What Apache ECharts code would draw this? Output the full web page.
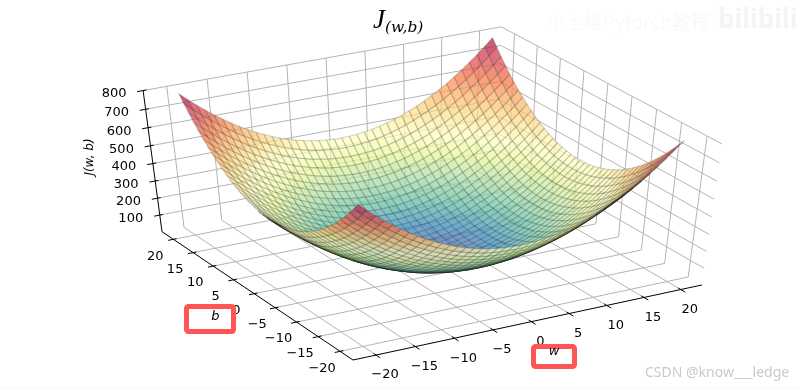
<!DOCTYPE html>
<html><head><meta charset="utf-8">
<style>html,body{margin:0;padding:0;background:#fff}#c{width:800px;height:389px}</style>
<script src="https://cdn.jsdelivr.net/npm/echarts@6/dist/echarts.min.js"></script>
</head><body><div id="c"></div>
<script>
// ---- values ----
const wValues=[-20,-19,-18,-17,-16,-15,-14,-13,-12,-11,-10,-9,-8,-7,-6,-5,-4,-3,-2,-1,0,1,2,3,4,5,6,7,8,9,10,11,12,13,14,15,16,17,18,19,20];
const bValues=wValues.slice();
const wTicks=[-20,-15,-10,-5,0,5,10,15,20];
const bTicks=[-20,-15,-10,-5,0,5,10,15,20];
const zTicks=[100,200,300,400,500,600,700,800];
const titleMain='J', titleSub='(w,b)';
// J(w,b) for w = -20..0 (the surface mirrors about w = 0) per |b|
const b0=[400,361,324,289,256,225,196,169,144,121,100,81,64,49,36,25,16,9,4,1,0];
const b1=[401,362,325,290,257,226,197,170,145,122,101,82,65,50,37,26,17,10,5,2,1];
const b2=[404,365,328,293,260,229,200,173,148,125,104,85,68,53,40,29,20,13,8,5,4];
const b3=[409,370,333,298,265,234,205,178,153,130,109,90,73,58,45,34,25,18,13,10,9];
const b4=[416,377,340,305,272,241,212,185,160,137,116,97,80,65,52,41,32,25,20,17,16];
const b5=[425,386,349,314,281,250,221,194,169,146,125,106,89,74,61,50,41,34,29,26,25];
const b6=[436,397,360,325,292,261,232,205,180,157,136,117,100,85,72,61,52,45,40,37,36];
const b7=[449,410,373,338,305,274,245,218,193,170,149,130,113,98,85,74,65,58,53,50,49];
const b8=[464,425,388,353,320,289,260,233,208,185,164,145,128,113,100,89,80,73,68,65,64];
const b9=[481,442,405,370,337,306,277,250,225,202,181,162,145,130,117,106,97,90,85,82,81];
const b10=[500,461,424,389,356,325,296,269,244,221,200,181,164,149,136,125,116,109,104,101,100];
const b11=[521,482,445,410,377,346,317,290,265,242,221,202,185,170,157,146,137,130,125,122,121];
const b12=[544,505,468,433,400,369,340,313,288,265,244,225,208,193,180,169,160,153,148,145,144];
const b13=[569,530,493,458,425,394,365,338,313,290,269,250,233,218,205,194,185,178,173,170,169];
const b14=[596,557,520,485,452,421,392,365,340,317,296,277,260,245,232,221,212,205,200,197,196];
const b15=[625,586,549,514,481,450,421,394,369,346,325,306,289,274,261,250,241,234,229,226,225];
const b16=[656,617,580,545,512,481,452,425,400,377,356,337,320,305,292,281,272,265,260,257,256];
const b17=[689,650,613,578,545,514,485,458,433,410,389,370,353,338,325,314,305,298,293,290,289];
const b18=[724,685,648,613,580,549,520,493,468,445,424,405,388,373,360,349,340,333,328,325,324];
const b19=[761,722,685,650,617,586,557,530,505,482,461,442,425,410,397,386,377,370,365,362,361];
const b20=[800,761,724,689,656,625,596,569,544,521,500,481,464,449,436,425,416,409,404,401,400];
const halfRows=[b20,b19,b18,b17,b16,b15,b14,b13,b12,b11,b10,b9,b8,b7,b6,b5,b4,b3,b2,b1,b0,b1,b2,b3,b4,b5,b6,b7,b8,b9,b10,b11,b12,b13,b14,b15,b16,b17,b18,b19,b20];
const costGrid=halfRows.map(r=>r.concat(r.slice(0,-1).reverse()));

// ---- view: perspective of the 3D box ----
const limW=22.9,limB=22.9,zLo=0,zHi=800;
const colorLo=-25,colorHi=800;
const cam={ax:353,ay:360,ux:8600,uy:-1413,uk:.04419,vx:-2565,vy:-1600,vk:.07004,zx:428,zy:2218,zk:-.071};
function box(u,v,t){
  const k=1+cam.uk*u+cam.vk*v+cam.zk*t;
  return [(cam.ax+cam.uk*cam.ux*u+cam.vk*cam.vx*v+cam.zk*cam.zx*t)/k,
          (cam.ay+cam.uk*cam.uy*u+cam.vk*cam.vy*v+cam.zk*cam.zy*t)/k,k];
}
const U=w=>(w+limW)/(2*limW),V=b=>(b+limB)/(2*limB),T=z=>(z-zLo)/(zHi-zLo);
const proj=(w,b,z)=>box(U(w),V(b),T(z));

// Spectral_r
const stops=[[94,79,162],[50,136,189],[102,194,165],[171,221,164],[230,245,152],[255,255,191],[254,224,139],[253,174,97],[244,109,67],[213,62,79],[158,1,66]];
function cmap(f){f=Math.max(0,Math.min(1,f))*10;const i=Math.min(9,Math.floor(f)),d=f-i,a=stops[i],b=stops[i+1];
  return [0,1,2].map(n=>Math.round(a[n]+(b[n]-a[n])*d));}

// grid lines on panes: [u0,v0,t0,u1,v1,t1]
const gridLines=[];
wTicks.forEach(w=>{const u=U(w);gridLines.push([u,0,0,u,1,0],[u,1,0,u,1,1]);});
bTicks.forEach(b=>{const v=V(b);gridLines.push([0,v,0,1,v,0],[1,v,0,1,v,1]);});
zTicks.forEach(z=>{const t=T(z);gridLines.push([0,1,t,1,1,t],[1,1,t,1,0,t]);});
// axis lines + ticks
const axisLines=[[0,0,0,1,0,0],[0,0,0,0,1,0],[0,1,0,0,1,1]];
const tickLines=[];
wTicks.forEach(w=>{const u=U(w);tickLines.push([u,-.02,0,u,.012,0]);});
bTicks.forEach(b=>{const v=V(b);tickLines.push([-.015,v,0,.009,v,0]);});
zTicks.forEach(z=>{const t=T(z);tickLines.push([-.016,1,t,.009,1,t]);});

// surface cells, far to near
const cells=[];
for(let j=0;j<bValues.length-1;j++)for(let i=0;i<wValues.length-1;i++){
  const wm=(wValues[i]+wValues[i+1])/2,bm=(bValues[j]+bValues[j+1])/2;
  const zm=(costGrid[j][i]+costGrid[j][i+1]+costGrid[j+1][i]+costGrid[j+1][i+1])/4;
  cells.push([i,j,proj(wm,bm,zm)[2]]);
}
cells.sort((a,b)=>b[2]-a[2]);

// texts: label, w/b/z anchor, pixel offset
const FONT='"DejaVu Sans"';
const texts=[];
wTicks.forEach(w=>{const p=box(U(w),0,0);texts.push([(w<0?'\u2212'+(-w):''+w),p[0]+9,p[1]+20]);});
bTicks.forEach(b=>{const p=box(0,V(b),0);texts.push([(b<0?'\u2212'+(-b):''+b),p[0]-18,p[1]+17]);});
zTicks.forEach(z=>{const p=box(0,1,T(z));texts.push([''+z,p[0]-29,p[1]+3.5]);});

const lineSeries=(data,color,width,z)=>({type:'custom',coordinateSystem:'cartesian2d',silent:true,animation:false,clip:false,z,
  data:data.map((d,i)=>[i,0]),
  renderItem(params,api){const d=data[params.dataIndex],a=box(d[0],d[1],d[2]),b=box(d[3],d[4],d[5]);
    const p=api.coord([a[0],a[1]]),q=api.coord([b[0],b[1]]);
    return {type:'line',shape:{x1:p[0],y1:p[1],x2:q[0],y2:q[1]},style:{stroke:color,lineWidth:width,fill:null},silent:true};}});

const option={animation:false,
  grid:{left:0,right:0,top:0,bottom:0},
  xAxis:{type:'value',min:0,max:800,show:false},
  yAxis:{type:'value',min:0,max:389,inverse:true,show:false},
  series:[
    lineSeries(gridLines,'#b4b4b4',1,1),
    lineSeries(axisLines,'#000',1,2),
    lineSeries(tickLines,'#000',1,2),
    {type:'custom',coordinateSystem:'cartesian2d',silent:true,animation:false,clip:false,z:3,progressive:0,
     data:cells.map(c=>[c[0],c[1]]),
     renderItem(params,api){
       const c=cells[params.dataIndex],i=c[0],j=c[1];
       const idx=[[i,j],[i+1,j],[i+1,j+1],[i,j+1]];
       let s=0;
       const pts=idx.map(q=>{const z=costGrid[q[1]][q[0]];s+=z;const p=proj(wValues[q[0]],bValues[q[1]],z);return api.coord([p[0],p[1]]);});
       const col=cmap((s/4-colorLo)/(colorHi-colorLo));
       let area=0;
       pts.forEach((p,n)=>{const q=pts[(n+1)%4];area+=p[0]*q[1]-q[0]*p[1];});
       area=Math.abs(area)/2;
       const edge=.18+Math.max(0,(10-area)/10)*.55;
       return {type:'polygon',shape:{points:pts},silent:true,
         style:{fill:`rgba(${col[0]},${col[1]},${col[2]},0.72)`,stroke:`rgba(30,40,25,${edge.toFixed(3)})`,lineWidth:1.2}};
     }},
    {type:'custom',coordinateSystem:'cartesian2d',silent:true,animation:false,clip:false,z:5,
     data:texts.map((t,i)=>[i,0]),
     renderItem(params,api){const t=texts[params.dataIndex],p=api.coord([t[1],t[2]]);
       return {type:'text',x:p[0],y:p[1],silent:true,style:{text:t[0],font:'13px '+FONT,fill:'#000',align:'center',verticalAlign:'middle'}};}}
  ],
  graphic:{elements:[
    {type:'rect',z:9,shape:{x:0,y:386,width:800,height:3},style:{fill:'#f6fffc'}},
    {type:'rect',z:10,shape:{x:186.5,y:306.5,width:47,height:25,r:2},style:{fill:'#fff',stroke:'#ff5555',lineWidth:5}},
    {type:'rect',z:10,shape:{x:533.5,y:346.5,width:41,height:20,r:2},style:{fill:'#fff',stroke:'#ff5555',lineWidth:5}},
    {type:'text',z:11,x:215.5,y:317,style:{text:'b',font:'italic 13px '+FONT,fill:'#000',align:'center',verticalAlign:'middle'}},
    {type:'text',z:11,x:554,y:352,style:{text:'w',font:'italic 13px '+FONT,fill:'#000',align:'center',verticalAlign:'middle'}},
    {type:'text',z:11,x:90,y:157,rotation:Math.PI/2,style:{text:'J(w, b)',font:'italic 12px '+FONT,fill:'#000',align:'center',verticalAlign:'middle'}},
    {type:'text',z:11,x:373,y:21,style:{text:titleMain,font:'italic 27px "Liberation Serif"',fill:'#000',align:'left',verticalAlign:'middle'}},
    {type:'text',z:11,x:385,y:28,style:{text:titleSub,font:'italic 15.5px "DejaVu Serif"',fill:'#000',align:'left',verticalAlign:'middle'}},
    {type:'text',z:11,x:645,y:373,style:{text:'CSDN @know___ledge',font:'14px "Noto Sans"',fill:'#cacaca',align:'left',verticalAlign:'middle'}},
    {type:'text',z:11,x:546,y:22,style:{text:'小土堆Pytorch教程',font:'19px "Noto Sans CJK SC"',fill:'#f9f9f9',align:'left',verticalAlign:'middle'}},
    {type:'text',z:11,x:718,y:21,style:{text:'bilibili',font:'bold 26px "Noto Sans"',fill:'#f4f4f4',align:'left',verticalAlign:'middle'}}
  ]}
};
const chart=echarts.init(document.getElementById('c'),null,{renderer:'canvas'});
chart.setOption(option);
</script></body></html>
